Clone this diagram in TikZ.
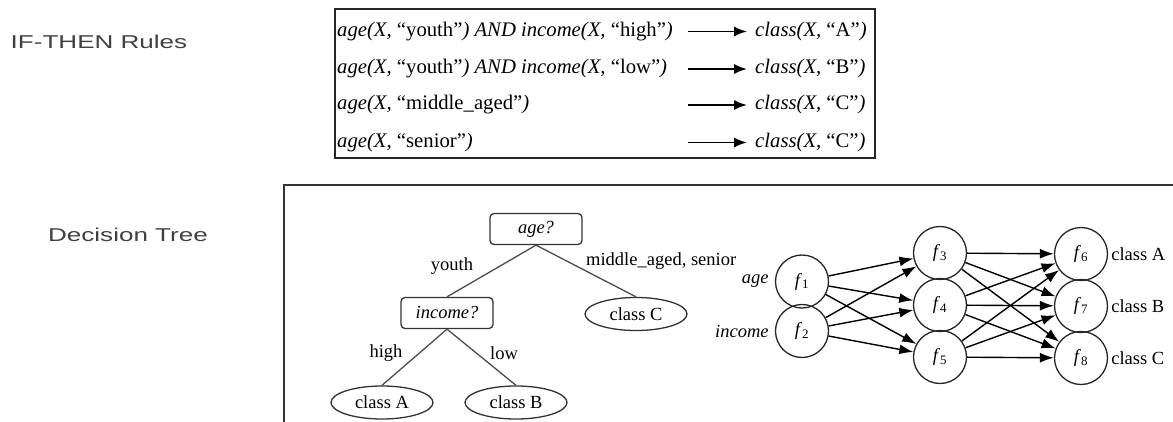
\documentclass[tikz,border=0pt]{standalone}
\usepackage{fontspec}
\setmainfont{Liberation Serif}
\newfontfamily\slidefont[FakeStretch=1.4]{Liberation Sans}
\usetikzlibrary{shapes.geometric,arrows.meta,positioning}

\begin{document}
\begin{tikzpicture}[
			     x=1pt, y=-1pt,
			     font=\fontsize{18.5}{20}\selectfont,
			     side/.style={font=\slidefont\fontsize{18.6}{20}\selectfont, text=black!75, inner sep=0pt},
			     rule/.style={anchor=west, inner sep=0pt, font=\fontsize{20.7}{22}\selectfont},
			     then/.style={-{Latex[length=13pt,width=10pt]}, line width=1.6pt, shorten >=8pt},
			     test/.style={draw=black!80, line width=1.3pt, rounded corners=4pt, minimum width=92pt, minimum height=31pt, inner sep=0pt, font=\fontsize{18.5}{20}\selectfont\itshape},
			     leaf/.style={draw=black!80, line width=1.3pt, ellipse, minimum width=102pt, minimum height=33pt, inner sep=0pt},
			     branch/.style={draw=black!70, line width=1.3pt},
			     unit/.style={draw=black!85, line width=1.3pt, circle, minimum size=53pt, inner sep=0pt},
			     lbl/.style={inner sep=0pt},
			     link/.style={-{Latex[length=14pt,width=10pt]}, line width=1.4pt}
			     ]
\useasboundingbox (0,0) rectangle (1173,422);
\clip (0,0) rectangle (1173,422);

\node[side] (rules) at (99,42) {IF-THEN Rules};
\node[side] (tree) at (128,235) {Decision Tree};

% rule table
\draw[line width=1.3pt, draw=black!85] (335,9) rectangle (875,158);
\node[rule] (r1) at (337,31.5) {\textit{age(X,} “youth”\textit{) AND income(X,} “high”\textit{)}};
\node[rule] (r2) at (337,69) {\textit{age(X,} “youth”\textit{) AND income(X,} “low”\textit{)}};
\node[rule] (r3) at (337,105) {\textit{age(X,} “middle\_aged”\textit{)}};
\node[rule] (r4) at (337,142.5) {\textit{age(X,} “senior”\textit{)}};
\node[rule] (c1) at (755,31.5) {\textit{class(X,} “A”\textit{)}};
\node[rule] (c2) at (755,69) {\textit{class(X,} “B”\textit{)}};
\node[rule] (c3) at (755,105) {\textit{class(X,} “C”\textit{)}};
\node[rule] (c4) at (755,142.5) {\textit{class(X,} “C”\textit{)}};
\coordinate (a1) at (688,31.5);
\coordinate (a2) at (688,69);
\coordinate (a3) at (688,105);
\coordinate (a4) at (688,142.5);
\draw[then] (a1) -- (c1.west);
\draw[then] (a2) -- (c2.west);
\draw[then] (a3) -- (c3.west);
\draw[then] (a4) -- (c4.west);

% tree and network frame
\draw[line width=1.4pt, draw=black!80] (284,185) rectangle (1200,450);

\node[test] (age) at (536,229) {age?};
\node[test] (income) at (447,313) {income?};
\node[leaf] (cC) at (636,314) {class C};
\node[leaf] (cA) at (382,402.5) {class A};
\node[leaf] (cB) at (516,402.5) {class B};
\path[branch] (age.south) edge (income.north) edge (cC.north);
\path[branch] (income.south) edge (cA.north) edge (cB.north);
\node[lbl] (youth) at (452,266) {youth};
\node[lbl, anchor=west] (midsen) at (586,261) {middle\_aged, senior};
\node[lbl] (high) at (386,353) {high};
\node[lbl] (low) at (504,353) {low};

\node[unit] (f1) at (802,281.5) {\textit{f}\textsubscript{1}};
\node[unit] (f2) at (802,331) {\textit{f}\textsubscript{2}};
\node[unit] (f3) at (940,253) {\textit{f}\textsubscript{3}};
\node[unit] (f4) at (940,305) {\textit{f}\textsubscript{4}};
\node[unit] (f5) at (940,357) {\textit{f}\textsubscript{5}};
\node[unit] (f6) at (1081,254) {\textit{f}\textsubscript{6}};
\node[unit] (f7) at (1081,306) {\textit{f}\textsubscript{7}};
\node[unit] (f8) at (1081,358) {\textit{f}\textsubscript{8}};
\node[lbl, left=6pt of f1] (inage) {\textit{age}};
\node[lbl, left=6pt of f2] (ininc) {\textit{income}};
\node[lbl, right=3pt of f6] (outA) {class A};
\node[lbl, right=3pt of f7] (outB) {class B};
\node[lbl, right=3pt of f8] (outC) {class C};
\path (f1) edge[link] (f3) edge[link] (f4) edge[link] (f5);
\path (f2) edge[link] (f3) edge[link] (f4) edge[link] (f5);
\path (f3) edge[link] (f6) edge[link] (f7) edge[link] (f8);
\path (f4) edge[link] (f6) edge[link] (f7) edge[link] (f8);
\path (f5) edge[link] (f6) edge[link] (f7) edge[link] (f8);
\end{tikzpicture}
\end{document}
